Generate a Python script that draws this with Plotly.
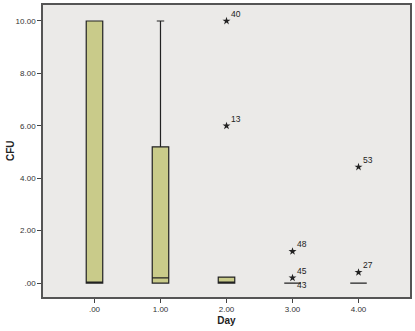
import plotly.graph_objects as go

days = [0, 1, 2, 3, 4]
day_labels = [".00", "1.00", "2.00", "3.00", "4.00"]
q1 = [0, 0, 0, 0, 0]
median = [0, 0.2, 0, 0, 0]
q3 = [10, 5.2, 0.23, 0, 0]
lower = [0, 0, 0, 0, 0]
upper = [10, 10, 0.23, 0, 0]

out_day = [2, 2, 3, 3, 3, 4, 4]
out_val = [10, 6.0, 1.21, 0.2, 0, 4.43, 0.41]
out_id = ["40", "13", "48", "45", "43", "53", "27"]

yticks = [0, 2, 4, 6, 8, 10]
ytick_labels = [".00", "2.00", "4.00", "6.00", "8.00", "10.00"]

fig = go.Figure()
fig.add_trace(go.Box(
    x=days, q1=q1, median=median, q3=q3, lowerfence=lower, upperfence=upper,
    width=0.25, whiskerwidth=0.45,
    fillcolor="#c9cb8a", line=dict(color="#222222", width=1.2),
    boxpoints=False, showlegend=False, hoverinfo="skip",
))

show_marker = [i != "43" for i in out_id]
fig.add_trace(go.Scatter(
    x=[d for d, s in zip(out_day, show_marker) if s],
    y=[v for v, s in zip(out_val, show_marker) if s],
    mode="markers", marker=dict(symbol="star", size=6, color="#222222"),
    showlegend=False, hoverinfo="skip",
))
for d, v, t in zip(out_day, out_val, out_id):
    below = t == "43"
    fig.add_annotation(
        x=d, y=v, text=t, showarrow=False, xanchor="left", yanchor="middle",
        xshift=2, yshift=-2 if below else 7,
        font=dict(family="Arial, Liberation Sans", size=8.5, color="#222222"),
    )

fig.add_annotation(
    xref="paper", yref="paper", x=0, y=0.5, xshift=-33, text="<b>CFU</b>",
    textangle=-90, showarrow=False, xanchor="center", yanchor="middle",
    font=dict(family="Arial, Liberation Sans", size=10, color="#222"),
)

fig.update_layout(
    width=415, height=331,
    margin=dict(l=43, r=5, t=3, b=34),
    paper_bgcolor="white", plot_bgcolor="#ebeae8",
    font=dict(family="Arial, Liberation Sans", size=8, color="#333333"),
)
fig.update_xaxes(
    range=[-0.78, 4.78], tickvals=days, ticktext=day_labels,
    showgrid=False, zeroline=False, ticks="outside", ticklen=4, tickcolor="#444",
    showline=True, linecolor="#555", linewidth=1.5, mirror=True,
    title=dict(text="<b>Day</b>", font=dict(size=10, color="#222"), standoff=4),
)
fig.update_yaxes(
    range=[-0.53, 10.61], tickvals=yticks, ticktext=ytick_labels,
    showgrid=False, zeroline=False, ticks="outside", ticklen=4, tickcolor="#444",
    showline=True, linecolor="#555", linewidth=1.5, mirror=True,
)
fig.write_html("out.html")
